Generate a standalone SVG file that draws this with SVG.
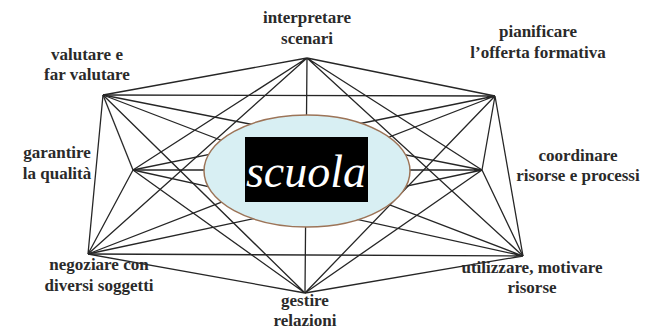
<svg xmlns="http://www.w3.org/2000/svg" width="648" height="329" viewBox="0 0 648 329">
<style>
.lbl{font-family:"Liberation Serif","Times New Roman",serif;font-size:17px;font-weight:bold;fill:#2a2a2a;text-anchor:middle}
.edge{stroke:#262626;stroke-width:1.3;fill:none}
</style>
<rect width="648" height="329" fill="#ffffff"/>
<g id="connectors" class="edge">
<path d="M307 58L495 96M307 58L482 170M307 58L523 256M307 58L305 293M307 58L88 254M307 58L133 170M307 58L103 95"/>
<path d="M495 96L482 170M495 96L523 256M495 96L305 293M495 96L88 254M495 96L133 170M495 96L103 95"/>
<path d="M482 170L523 256M482 170L305 293M482 170L88 254M482 170L133 170M482 170L103 95"/>
<path d="M523 256L305 293M523 256L88 254M523 256L133 170M523 256L103 95"/>
<path d="M305 293L88 254M305 293L133 170M305 293L103 95"/>
<path d="M88 254L133 170M88 254L103 95"/>
<path d="M133 170L103 95"/>
</g>
<g id="scuola">
<ellipse cx="307" cy="171" rx="103" ry="56" fill="#d8eff3" stroke="#9c7458" stroke-width="1.5"/>
<rect x="245" y="137" width="123" height="65" fill="#000000"/>
<text x="306" y="187" font-family="'Liberation Serif','DejaVu Serif',serif" font-style="italic" font-size="46" fill="#ffffff" text-anchor="middle">scuola</text>
</g>
<g id="n-interpretare"><text class="lbl" x="307" y="23">interpretare</text><text class="lbl" x="307" y="44">scenari</text></g>
<g id="n-pianificare"><text class="lbl" x="538" y="37">pianificare</text><text class="lbl" x="538" y="58">l’offerta formativa</text></g>
<g id="n-valutare"><text class="lbl" x="87" y="60">valutare e</text><text class="lbl" x="87" y="80">far valutare</text></g>
<g id="n-garantire"><text class="lbl" x="57" y="158">garantire</text><text class="lbl" x="57" y="179">la qualità</text></g>
<g id="n-coordinare"><text class="lbl" x="578" y="161">coordinare</text><text class="lbl" x="578" y="181">risorse e processi</text></g>
<g id="n-negoziare"><text class="lbl" x="99" y="270">negoziare con</text><text class="lbl" x="99" y="291">diversi soggetti</text></g>
<g id="n-utilizzare"><text class="lbl" x="532" y="273">utilizzare, motivare</text><text class="lbl" x="532" y="293">risorse</text></g>
<g id="n-gestire"><text class="lbl" x="305" y="306">gestire</text><text class="lbl" x="305" y="326">relazioni</text></g>
</svg>
